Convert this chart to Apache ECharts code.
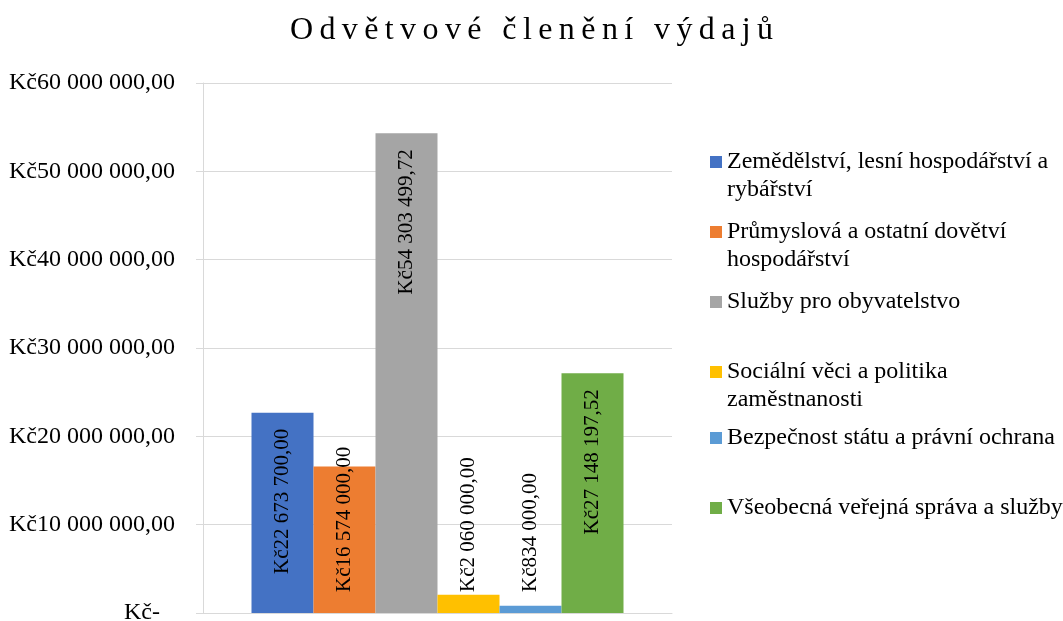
<!DOCTYPE html>
<html>
<head>
<meta charset="utf-8">
<script src="https://cdn.jsdelivr.net/npm/echarts@6/dist/echarts.min.js"></script>
<style>
  html, body { margin: 0; padding: 0; background: #fff; }
  #chart { width: 1063px; height: 621px; }
</style>
</head>
<body>
<div id="chart"></div>
<script>
// data
var chartTitle = 'Odvětvové členění výdajů';
var sectors = [
    'Zemědělství, lesní hospodářství a rybářství',
    'Průmyslová a ostatní dovětví hospodářství',
    'Služby pro obyvatelstvo',
    'Sociální věci a politika zaměstnanosti',
    'Bezpečnost státu a právní ochrana',
    'Všeobecná veřejná správa a služby'
];
var legendLabels = [
    'Zemědělství, lesní hospodářství a\nrybářství',
    'Průmyslová a ostatní dovětví\nhospodářství',
    'Služby pro obyvatelstvo',
    'Sociální věci a politika\nzaměstnanosti',
    'Bezpečnost státu a právní ochrana',
    'Všeobecná veřejná správa a služby'
];
var amounts = [22673700.00, 16574000.00, 54303499.72, 2060000.00, 834000.00, 27148197.52];
var yTicks = [0, 10000000, 20000000, 30000000, 40000000, 50000000, 60000000];

var colors = ['#4472C4', '#ED7D31', '#A5A5A5', '#FFC000', '#5B9BD5', '#70AD47'];
var serif = "'Liberation Serif', 'Times New Roman', serif";

// legend rows (centre of first text line)
var legendRowY = [162, 232, 302, 372, 438, 508];
var lineH = 28;

function kc(v) {
    var parts = v.toFixed(2).split('.');
    parts[0] = parts[0].replace(/\B(?=(\d{3})+(?!\d))/g, ' ');
    return 'Kč' + parts[0] + ',' + parts[1];
}

function spaced(s) {
    return s.split('').join('\u2009');
}

var myChart = echarts.init(document.getElementById('chart'));

var series = [];
var legends = [];
sectors.forEach(function (name, i) {
    var inside = amounts[i] > 20000000;
    series.push({
        name: name,
        type: 'bar',
        data: [amounts[i]],
        barWidth: 62,
        barGap: '0%',
        itemStyle: {color: colors[i]},
        label: {
            show: true,
            rotate: 90,
            position: inside ? 'insideTop' : 'insideBottom',
            distance: inside ? 16 : 21,
            align: inside ? 'right' : 'left',
            verticalAlign: 'middle',
            fontFamily: serif,
            fontSize: 21,
            color: '#000',
            formatter: function (p) {
                return kc(p.value);
            }
        }
    });
    var lines = legendLabels[i].split('\n').length;
    legends.push({
        data: [name],
        orient: 'vertical',
        left: 710,
        top: legendRowY[i] - (lines > 1 ? lineH * 1.5 : lineH / 2),
        padding: 0,
        itemWidth: 12,
        itemHeight: 12,
        icon: 'rect',
        selectedMode: false,
        textStyle: {
            fontFamily: serif,
            fontSize: 24,
            lineHeight: lineH,
            color: '#000'
        },
        formatter: function () {
            return lines > 1 ? '\n' + legendLabels[i] : legendLabels[i];
        }
    });
});

var option = {
    animation: false,
    backgroundColor: '#fff',
    title: {
        text: spaced(chartTitle),
        left: 'center',
        top: 10,
        textStyle: {
            fontFamily: serif,
            fontWeight: 'normal',
            fontSize: 32,
            color: '#000'
        }
    },
    legend: legends,
    grid: {
        left: 203,
        right: 391,
        top: 83,
        bottom: 8,
        outerBoundsMode: 'none'
    },
    xAxis: {
        type: 'category',
        data: [''],
        axisLine: {lineStyle: {color: '#d9d9d9', width: 1}},
        axisTick: {show: false},
        axisLabel: {show: false}
    },
    yAxis: {
        type: 'value',
        min: yTicks[0],
        max: yTicks[yTicks.length - 1],
        interval: yTicks[1] - yTicks[0],
        axisLine: {show: true, lineStyle: {color: '#d9d9d9', width: 1}},
        axisTick: {show: true, length: 7, lineStyle: {color: '#d9d9d9'}},
        splitLine: {lineStyle: {color: '#d9d9d9', width: 1}},
        axisLabel: {
            margin: 28,
            fontFamily: serif,
            fontSize: 24,
            color: '#000',
            formatter: function (v) {
                return v === 0 ? '{z|Kč-}' : kc(v);
            },
            rich: {
                z: {
                    fontFamily: serif,
                    fontSize: 24,
                    color: '#000',
                    padding: [0, 15, 0, 0]
                }
            }
        }
    },
    series: series
};

myChart.setOption(option);
</script>
</body>
</html>
